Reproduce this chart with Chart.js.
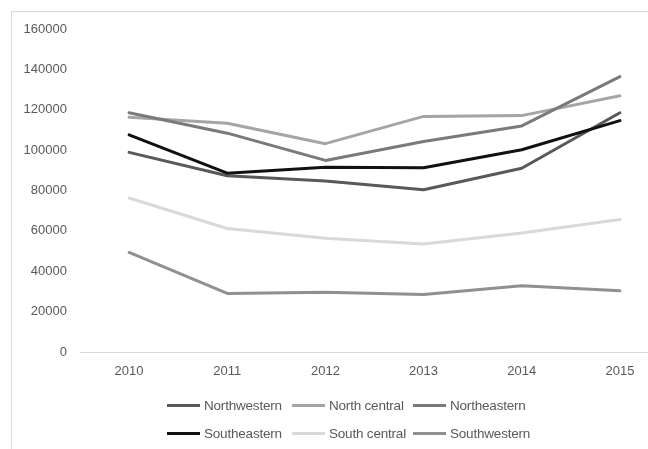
<!DOCTYPE html>
<html>
<head>
<meta charset="utf-8">
<script src="https://cdn.jsdelivr.net/npm/chart.js@4/dist/chart.umd.min.js"></script>
<style>
  html, body { margin: 0; padding: 0; background: #fff; overflow: hidden; width: 648px; height: 449px; }
  #frame { position: absolute; left: 11px; top: 11px; width: 720px; height: 520px; border: 1px solid #d9d9d9; }
  #wrap { position: absolute; left: 0; top: 0; width: 700px; height: 449px; }
  #legend { position: absolute; left: 167px; top: 396px; display: grid; grid-template-columns: 125px 121px 130px; row-gap: 10px;
            font: 13.5px "Liberation Sans", Arial, sans-serif; letter-spacing: -0.2px; color: #595959; }
  .item { display: flex; align-items: center; height: 18px; white-space: nowrap; }
  .swatch { width: 33px; height: 3px; margin-right: 4px; }
</style>
</head>
<body>
<div id="frame"></div>
<div id="wrap"><canvas id="chart" width="700" height="449"></canvas></div>
<div id="legend"></div>
<script>
const years = ["2010", "2011", "2012", "2013", "2014", "2015"];

const northwestern = [98900, 87300, 84700, 80400, 91000, 118500];
const northCentral = [116300, 113300, 103200, 116700, 117100, 126900];
const northeastern = [118500, 108400, 94900, 104300, 112000, 136400];
const southeastern = [107600, 88600, 91500, 91300, 100200, 114600];
const southCentral = [76300, 61200, 56300, 53500, 59000, 65600];
const southwestern = [49300, 29000, 29600, 28500, 32800, 30300];

const seriesNames = ["Northwestern", "North central", "Northeastern", "Southeastern", "South central", "Southwestern"];
const seriesValues = [northwestern, northCentral, northeastern, southeastern, southCentral, southwestern];
const seriesColors = ["#595959", "#a5a5a5", "#7a7a7a", "#111111", "#d9d9d9", "#909090"];

const yTicks = [0, 20000, 40000, 60000, 80000, 100000, 120000, 140000, 160000];

const tickFont = { family: "'Liberation Sans', Arial, sans-serif", size: 13 };

const chart = new Chart(document.getElementById('chart'), {
    type: 'line',
    data: {
        labels: years,
        datasets: seriesNames.map((name, i) => ({
            label: name,
            data: seriesValues[i],
            borderColor: seriesColors[i],
            backgroundColor: seriesColors[i],
            borderWidth: 3,
            pointRadius: 0,
            tension: 0,
            borderJoinStyle: 'round',
            borderCapStyle: 'round',
            order: seriesNames.length - i // later series on top, like the original
        }))
    },
    options: {
        responsive: false,
        animation: false,
        layout: {
            padding: { left: 0, right: 31, top: 29, bottom: 0 }
        },
        plugins: {
            legend: { display: false },
            tooltip: { enabled: false }
        },
        scales: {
            x: {
                offset: true,
                grid: { display: false, drawTicks: false },
                border: { display: true, color: '#d9d9d9', width: 1 },
                ticks: { color: '#595959', font: tickFont, padding: 12, maxRotation: 0 },
                afterFit: s => { s.height = 97; }
            },
            y: {
                min: 0,
                max: yTicks[yTicks.length - 1],
                grid: { display: false, drawTicks: false },
                border: { display: false },
                afterBuildTicks: s => { s.ticks = yTicks.map(v => ({ value: v })); },
                ticks: { color: '#595959', font: tickFont, padding: 13, callback: v => String(v) },
                afterFit: s => { s.width = 80; }
            }
        }
    }
});

// legend built from the chart's datasets, laid out in Excel's 3-column grid
const legendEl = document.getElementById('legend');
chart.data.datasets.forEach(ds => {
    const item = document.createElement('div');
    item.className = 'item';
    const sw = document.createElement('span');
    sw.className = 'swatch';
    sw.style.background = ds.borderColor;
    item.appendChild(sw);
    item.appendChild(document.createTextNode(ds.label));
    legendEl.appendChild(item);
});
</script>
</body>
</html>
